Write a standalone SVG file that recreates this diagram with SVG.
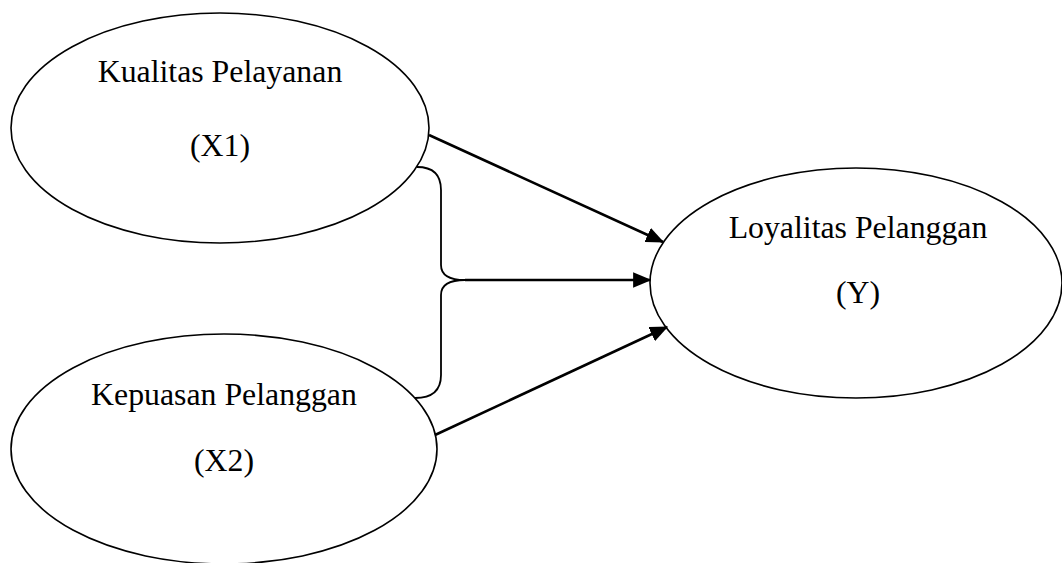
<svg xmlns="http://www.w3.org/2000/svg" width="1062" height="563" viewBox="0 0 1062 563">
<style>
.node ellipse{fill:#fff;stroke:#000;stroke-width:1.6}
.node text{font-family:"Liberation Serif",serif;font-size:31.8px;fill:#000;text-anchor:middle}
.conn{fill:none;stroke:#000;stroke-width:2.6}
.brace{fill:none;stroke:#000;stroke-width:1.8}
</style>
<defs>
<marker id="ah" markerWidth="7" markerHeight="6" refX="6.5" refY="3" orient="auto" markerUnits="strokeWidth">
<path d="M0,0 L7,3 L0,6 Z" fill="#000"/>
</marker>
</defs>
<rect width="1062" height="563" fill="#fff"/>
<g id="x1" class="node">
<ellipse cx="220" cy="128" rx="209" ry="115"/>
<text x="220" y="82">Kualitas Pelayanan</text>
<text x="220" y="156">(X1)</text>
</g>
<g id="x2" class="node">
<ellipse cx="224" cy="449" rx="213" ry="115"/>
<text x="224" y="405">Kepuasan Pelanggan</text>
<text x="224" y="471">(X2)</text>
</g>
<g id="y" class="node">
<ellipse cx="856" cy="283" rx="206" ry="115"/>
<text x="858" y="238">Loyalitas Pelanggan</text>
<text x="858" y="303">(Y)</text>
</g>
<g id="connectors">
<path class="brace" d="M417,167 Q441,167 441,190 L441,265 Q441,280 465,280 Q441,280 441,295 L441,375 Q441,398 415,398"/>
<line class="conn" x1="429" y1="135" x2="663" y2="242" marker-end="url(#ah)"/>
<line class="conn" x1="465" y1="280" x2="650" y2="280" marker-end="url(#ah)"/>
<line class="conn" x1="435" y1="435" x2="667" y2="327" marker-end="url(#ah)"/>
</g>
</svg>
